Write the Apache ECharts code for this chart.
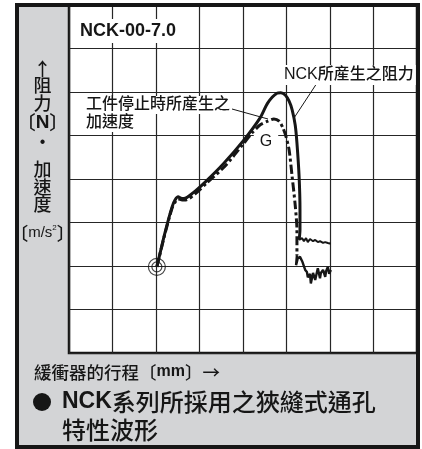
<!DOCTYPE html>
<html>
<head>
<meta charset="utf-8">
<script src="https://cdn.jsdelivr.net/npm/echarts@6/dist/echarts.min.js"></script>
<style>
html,body{margin:0;padding:0;background:#fff;}
#c{width:422px;height:449px;}
</style>
</head>
<body>
<div id="c"></div>
<script>
// ---- data (grid units: x = stroke divisions, y = force / acceleration divisions) ----
var gridTicks = [0, 1, 2, 3, 4, 5, 6, 7, 8];
var originPoint = [[2.02, 1.98]];
var resistanceCurve = [
  [2.02, 1.98], [2.21, 2.78], [2.37, 3.36], [2.44, 3.52], [2.51, 3.59], [2.57, 3.56],
  [2.64, 3.55], [2.85, 3.68], [3.13, 3.93], [3.54, 4.34], [4.00, 4.87], [4.39, 5.40],
  [4.57, 5.75], [4.78, 5.97], [4.87, 5.98], [4.97, 5.93], [5.06, 5.79], [5.13, 5.59],
  [5.20, 5.24], [5.24, 4.83], [5.29, 4.05], [5.31, 3.29], [5.31, 2.83], [5.29, 2.60]
];
var resistanceTail = [
  [5.29, 2.60], [5.36, 2.64], [5.40, 2.57], [5.45, 2.64], [5.49, 2.55], [5.54, 2.62],
  [5.61, 2.57], [5.66, 2.60], [5.72, 2.55], [5.77, 2.57], [5.84, 2.53], [5.89, 2.55],
  [5.95, 2.53], [6.02, 2.51]
];
var accelerationCurve = [
  [2.02, 1.98], [2.21, 2.76], [2.37, 3.33], [2.44, 3.47], [2.51, 3.54], [2.60, 3.52],
  [2.69, 3.52], [2.90, 3.66], [3.17, 3.91], [3.59, 4.30], [4.00, 4.80], [4.21, 5.06],
  [4.39, 5.24], [4.57, 5.33], [4.71, 5.38], [4.83, 5.33], [4.92, 5.17], [4.99, 4.97],
  [5.06, 4.67], [5.13, 4.05], [5.20, 3.40], [5.24, 2.83], [5.24, 2.25]
];
var accelerationTail = [
  [5.24, 2.25], [5.22, 2.02], [5.26, 2.18], [5.31, 2.21], [5.36, 2.11], [5.40, 2.14],
  [5.43, 1.91], [5.47, 1.86], [5.49, 1.74], [5.54, 1.82], [5.56, 1.60], [5.61, 1.84],
  [5.66, 1.68], [5.68, 1.77], [5.72, 1.95], [5.77, 1.72], [5.79, 1.84], [5.84, 1.91],
  [5.89, 1.75], [5.91, 1.88], [5.95, 1.98], [5.98, 1.82], [6.02, 1.91]
];
var modelLabel = 'NCK-00-7.0';
var resistanceLabel = 'NCK所産生之阻力';
var accelLabel1 = '工件停止時所産生之';
var accelLabel2 = '加速度';
var gLabel = 'G';
var xAxisTitle = '緩衝器的行程';
var xAxisUnit = 'mm';
var captionLine1 = 'NCK系列所採用之狹縫式通孔';
var captionLine2 = '特性波形';

var FF = '"Liberation Sans", "Noto Sans CJK TC", sans-serif';
var CJK = '"Noto Sans CJK TC", sans-serif';
var INK = '#161616';
var chart = echarts.init(document.getElementById('c'), null, {renderer: 'canvas'});

function txt(t, x, y, size, opts) {
  opts = opts || {};
  var st = {
    text: t, x: x, y: y,
    font: (opts.weight || '500') + ' ' + size + 'px ' + (opts.family || FF),
    fill: INK,
    textAlign: opts.align || 'left',
    textVerticalAlign: 'middle'
  };
  if (opts.bg) { st.backgroundColor = '#fff'; st.padding = opts.pad || [1, 2]; }
  return {type: 'text', z: 50, style: st};
}

var leftCx = 42.5;
var graphics = [
  {type: 'rect', z: -10, shape: {x: 17, y: 5, width: 401, height: 442}, style: {fill: '#d3d4d6', stroke: 'none'}},
  {type: 'rect', z: 100, shape: {x: 17, y: 5, width: 401, height: 442}, style: {fill: 'none', stroke: INK, lineWidth: 4}},
  // left panel vertical title
  txt('↑', leftCx, 69, 18, {align: 'center', family: CJK}),
  txt('阻', leftCx, 87, 18, {align: 'center'}),
  txt('力', leftCx, 105, 18, {align: 'center'}),
  {type: 'text', z: 50, style: {
    text: '{b|〔}{n|N}{b|〕}', x: leftCx, y: 123,
    textAlign: 'center', textVerticalAlign: 'middle',
    rich: {
      b: {font: '500 19px ' + CJK, fill: INK},
      n: {font: 'bold 19px ' + FF, fill: INK}
    }
  }},
  txt('•', leftCx, 143, 16, {align: 'center'}),
  txt('加', leftCx, 171, 18, {align: 'center'}),
  txt('速', leftCx, 189, 18, {align: 'center'}),
  txt('度', leftCx, 206, 18, {align: 'center'}),
  {type: 'text', z: 50, style: {
    text: '{b|〔}{u|m/s}{s|2}{b|〕}', x: leftCx, y: 233,
    textAlign: 'center', textVerticalAlign: 'middle',
    rich: {
      b: {font: '500 18px ' + CJK, fill: INK},
      u: {font: '500 15px "Liberation Sans Narrow", "Liberation Sans", sans-serif', fill: INK},
      s: {font: '500 8px ' + FF, fill: INK, verticalAlign: 'top', padding: [0, 0, 9, 0]}
    }
  }},
  // plot labels
  txt(modelLabel, 78, 31, 18, {weight: 'bold', bg: true, pad: [3, 2]}),
  txt(resistanceLabel, 282, 75, 16, {bg: true, pad: [2, 2]}),
  txt(accelLabel1, 84, 105, 16, {bg: true, pad: [1, 2]}),
  txt(accelLabel2, 84, 123, 16, {bg: true, pad: [1, 2]}),
  txt(gLabel, 266, 142, 16, {align: 'center', bg: true, pad: [1, 6]}),
  {type: 'line', z: 49, shape: {x1: 232, y1: 109, x2: 268, y2: 119}, style: {stroke: INK, lineWidth: 1}},
  {type: 'line', z: 49, shape: {x1: 317, y1: 83, x2: 294, y2: 118}, style: {stroke: INK, lineWidth: 1}},
  // bottom texts
  {type: 'text', z: 50, style: {
    text: '{c|' + xAxisTitle + '〔}{m|' + xAxisUnit + '}{c|〕→}', x: 34, y: 372,
    textAlign: 'left', textVerticalAlign: 'middle',
    rich: {
      c: {font: '500 17.5px ' + CJK, fill: INK},
      m: {font: 'bold 16px ' + FF, fill: INK}
    }
  }},
  {type: 'circle', z: 50, shape: {cx: 42, cy: 402, r: 9}, style: {fill: INK}},
  {type: 'text', z: 50, style: {
    text: '{l|NCK}{c|' + captionLine1.slice(3) + '}', x: 62, y: 402,
    textAlign: 'left', textVerticalAlign: 'middle',
    rich: {
      l: {font: 'bold 23px ' + FF, fill: INK},
      c: {font: '500 24px ' + CJK, fill: INK}
    }
  }},
  txt(captionLine2, 62, 430, 24, {family: CJK})
];

var option = {
  animation: false,
  backgroundColor: '#ffffff',
  grid: {left: 69, top: 5, width: 348, height: 348, show: true, backgroundColor: '#ffffff', borderColor: INK, borderWidth: 2.5},
  xAxis: {
    type: 'value', min: gridTicks[0], max: gridTicks[gridTicks.length - 1], interval: 1,
    axisLine: {show: false}, axisTick: {show: false}, axisLabel: {show: false},
    splitLine: {show: true, lineStyle: {color: '#262626', width: 1.2}}
  },
  yAxis: {
    type: 'value', min: gridTicks[0], max: gridTicks[gridTicks.length - 1], interval: 1,
    axisLine: {show: false}, axisTick: {show: false}, axisLabel: {show: false},
    splitLine: {show: true, lineStyle: {color: '#262626', width: 1.2}}
  },
  series: [
    {type: 'line', data: accelerationCurve, smooth: 0.25, showSymbol: false, z: 3,
     lineStyle: {color: INK, width: 3, type: [9, 3, 3, 3], cap: 'butt'}},
    {type: 'line', data: accelerationTail, smooth: false, showSymbol: false, z: 3,
     lineStyle: {color: INK, width: 2.4}},
    {type: 'line', data: resistanceCurve, smooth: 0.25, showSymbol: false, z: 4,
     lineStyle: {color: INK, width: 3}},
    {type: 'line', data: resistanceTail, smooth: false, showSymbol: false, z: 4,
     lineStyle: {color: INK, width: 2}},
    {type: 'scatter', data: originPoint, symbol: 'circle', symbolSize: 17, z: 5,
     itemStyle: {color: 'rgba(0,0,0,0)', borderColor: INK, borderWidth: 1.2}},
    {type: 'scatter', data: originPoint, symbol: 'circle', symbolSize: 10, z: 5,
     itemStyle: {color: 'rgba(0,0,0,0)', borderColor: INK, borderWidth: 1.2}}
  ],
  graphic: graphics
};
chart.setOption(option);
</script>
</body>
</html>
